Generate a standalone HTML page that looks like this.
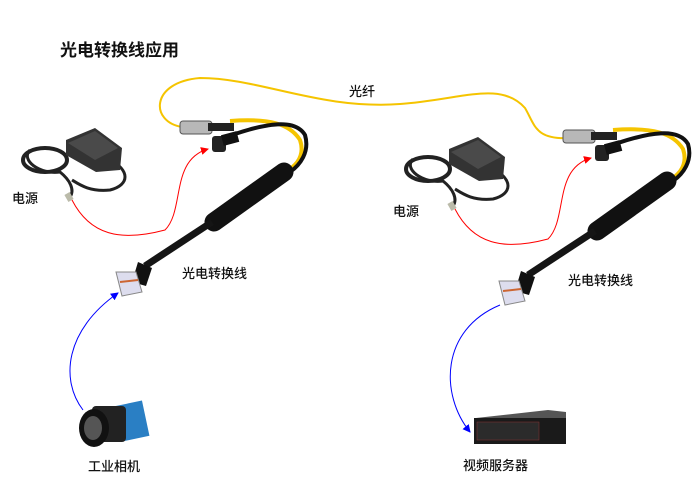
<!DOCTYPE html>
<html><head><meta charset="utf-8"><style>
body{margin:0;background:#fff;width:700px;height:495px;overflow:hidden;font-family:"Liberation Sans","Noto Sans CJK SC",sans-serif}
.t{position:absolute;color:#111;font-size:13px;white-space:nowrap;font-weight:500}
</style></head><body>
<svg width="700" height="495" style="position:absolute;left:0;top:0">
<defs>
<marker id="ar" markerWidth="8" markerHeight="8" refX="7" refY="4" orient="auto" markerUnits="userSpaceOnUse"><path d="M0,0 L8,4 L0,8 z" fill="#f00"/></marker>
<marker id="ab" markerWidth="8" markerHeight="8" refX="7" refY="4" orient="auto" markerUnits="userSpaceOnUse"><path d="M0,0 L8,4 L0,8 z" fill="#00f"/></marker>
<g id="asm">
 <path d="M30,150 C20,160 40,175 60,172 C70,180 75,190 70,197" stroke="#222" stroke-width="3" fill="none"/>
 <ellipse cx="45" cy="160" rx="22" ry="12" fill="none" stroke="#222" stroke-width="4"/>
 <path d="M110,160 C130,170 130,185 110,190 C90,192 80,185 72,180" stroke="#222" stroke-width="3" fill="none"/>
 <path d="M66,140 L95,128 L122,148 L120,170 L96,172 L66,155 z" fill="#333"/>
 <path d="M68,143 L95,131 L118,148 L95,160 z" fill="#4a4a4a"/>
 <rect x="66" y="193" width="6" height="8" fill="#bba" transform="rotate(-30 69 197)"/>
 <path d="M230,121 C270,118 290,124 300,140 C305,155 298,165 285,172" stroke="#f5c400" stroke-width="4" fill="none"/>
 <path d="M235,134 C265,124 295,118 305,135 C310,152 300,165 290,172" stroke="#111" stroke-width="4" fill="none"/>
 <rect x="180" y="121" width="32" height="13" rx="3" fill="#b8b8b8" stroke="#555"/>
 <rect x="208" y="123" width="26" height="8" fill="#222"/>
 <rect x="212" y="136" width="14" height="16" rx="3" fill="#222"/>
 <rect x="222" y="133" width="16" height="11" fill="#111" transform="rotate(-15 230 138)"/>
 <line x1="284" y1="172" x2="214" y2="222" stroke="#111" stroke-width="19" stroke-linecap="round"/>
 <line x1="212" y1="222" x2="145" y2="266" stroke="#151515" stroke-width="7"/>
 <polygon points="138,262 152,268 146,286 132,282" fill="#111"/>
 <polygon points="116,272 136,272 142,292 122,296" fill="#dde" stroke="#888"/>
 <line x1="120" y1="282" x2="138" y2="280" stroke="#c63" stroke-width="2"/>
 <path d="M72,200 C90,235 120,242 165,230 C185,210 170,160 208,149" stroke="#f00" stroke-width="1" fill="none" marker-end="url(#ar)"/>
</g>
</defs>
<path d="M182,127 C150,122 150,82 200,78 C260,78 320,110 400,104 C460,100 500,80 525,108 C535,125 535,140 570,138" stroke="#f5c400" stroke-width="2" fill="none"/>
<use href="#asm"/>
<use href="#asm" transform="translate(383,9)"/>
<path d="M83,410 C60,380 65,330 118,293" stroke="#00f" stroke-width="1" fill="none" marker-end="url(#ab)"/>
<path d="M500,305 C440,330 440,395 470,432" stroke="#00f" stroke-width="1" fill="none" marker-end="url(#ab)"/>
<rect x="118" y="403" width="28" height="36" fill="#2a7fc4" transform="rotate(-12 132 421)"/>
<rect x="92" y="406" width="34" height="36" rx="4" fill="#222"/>
<ellipse cx="94" cy="428" rx="15" ry="19" fill="#111"/>
<ellipse cx="93" cy="428" rx="9" ry="12" fill="#555"/>
<polygon points="476,418 548,410 566,412 566,418" fill="#555"/>
<rect x="474" y="418" width="92" height="26" fill="#1a1a1a"/>
<rect x="477" y="422" width="62" height="18" fill="#2b2b2b" stroke="#833" stroke-width="0.5"/>
</svg>
<div class="t" style="left:60px;top:36px;font-size:17px;font-weight:bold">光电转换线应用</div>
<div class="t" style="left:349px;top:81px">光纤</div>
<div class="t" style="left:12px;top:188px">电源</div>
<div class="t" style="left:182px;top:263px">光电转换线</div>
<div class="t" style="left:393px;top:201px">电源</div>
<div class="t" style="left:568px;top:270px">光电转换线</div>
<div class="t" style="left:88px;top:456px">工业相机</div>
<div class="t" style="left:463px;top:455px">视频服务器</div>
</body></html>
